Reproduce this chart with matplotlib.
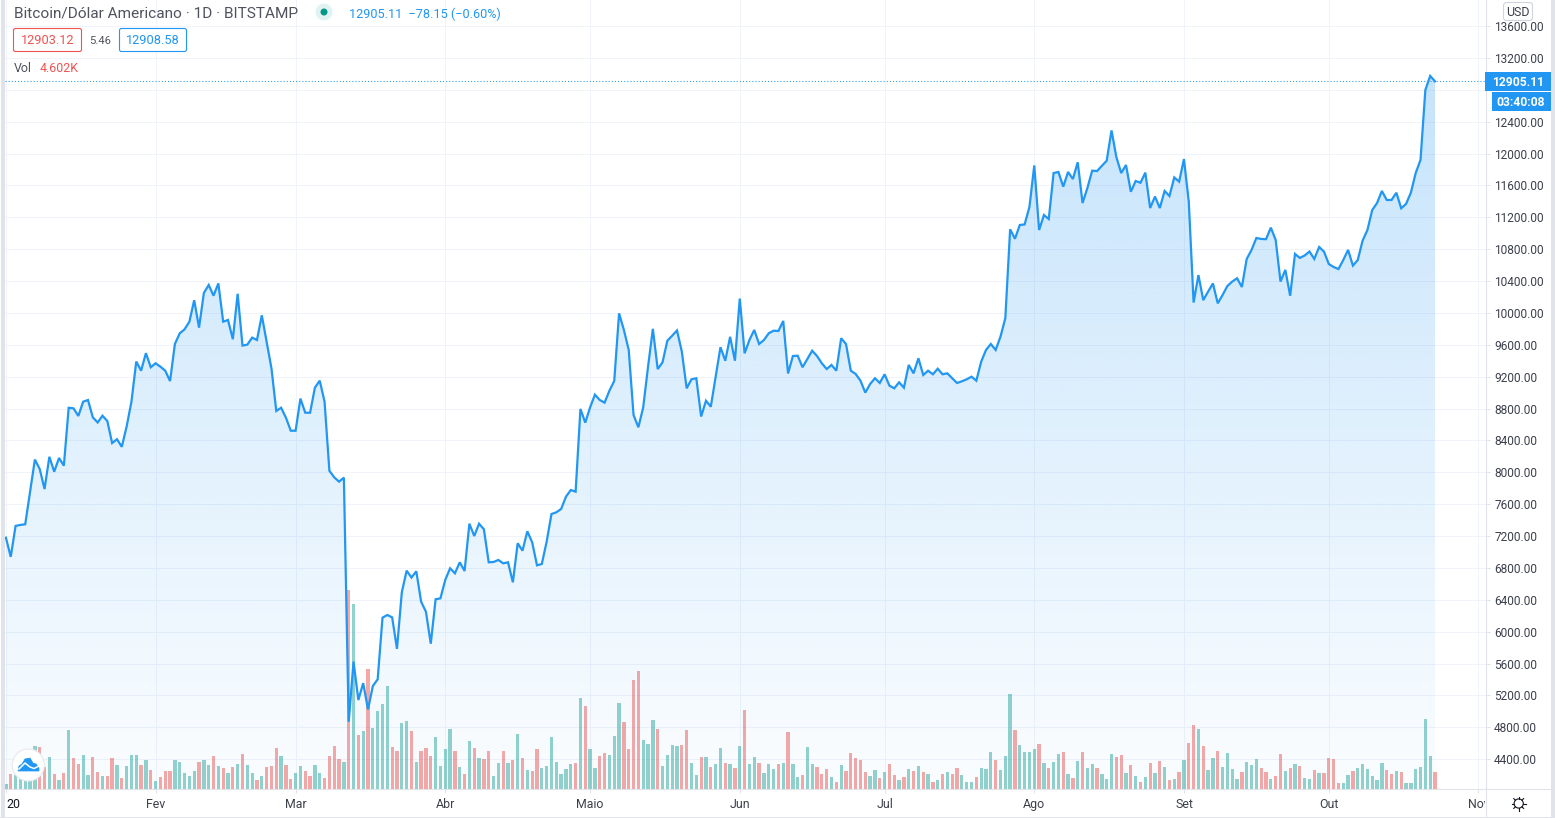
import numpy as np
import matplotlib
matplotlib.use('Agg')
import matplotlib.pyplot as plt
from matplotlib.patches import Circle, FancyBboxPatch, PathPatch, Polygon, Rectangle
from matplotlib.path import Path
from matplotlib.transforms import Bbox

# daily close per month
close_jan = [7180, 6940, 7327, 7340, 7348, 7757, 8160, 8041, 7790, 8195, 8008, 8180, 8083, 8810, 8803, 8707,
             8886, 8907, 8690, 8625, 8710, 8644, 8367, 8415, 8320, 8573, 8886, 9390, 9275, 9495, 9318]
close_feb = [9368, 9325, 9275, 9145, 9610, 9744, 9794, 9890, 10160, 9815, 10250, 10350, 10216, 10370, 9890,
             9911, 9670, 10240, 9590, 9602, 9690, 9660, 9970, 9640, 9305, 8770, 8810, 8685, 8522]
close_mar = [8522, 8925, 8748, 8748, 9062, 9150, 8886, 8020, 7937, 7883, 7933, 4870, 5625, 5143, 5355, 5025,
             5319, 5403, 6176, 6210, 6180, 5785, 6495, 6766, 6680, 6758, 6377, 6250, 5850, 6407, 6419]
close_abr = [6650, 6796, 6733, 6871, 6762, 7355, 7201, 7355, 7285, 6871, 6875, 6900, 6858, 6871, 6620, 7110,
             7017, 7260, 7122, 6833, 6850, 7130, 7477, 7498, 7540, 7694, 7778, 7757, 8795, 8623]
close_mai = [8815, 8974, 8907, 8874, 9024, 9146, 9995, 9786, 9535, 8719, 8565, 8815, 9325, 9800, 9295, 9380,
             9651, 9714, 9780, 9514, 9054, 9167, 9180, 8700, 8898, 8823, 9200, 9570, 9400, 9700, 9400]
close_jun = [10180, 9493, 9660, 9786, 9610, 9660, 9744, 9777, 9773, 9899, 9240, 9459, 9463, 9318, 9422, 9526,
             9459, 9368, 9296, 9347, 9275, 9682, 9610, 9275, 9234, 9150, 9000, 9108, 9180, 9121]
close_jul = [9230, 9087, 9054, 9129, 9062, 9347, 9242, 9431, 9221, 9275, 9230, 9300, 9230, 9242, 9180, 9121,
             9142, 9167, 9200, 9150, 9388, 9535, 9610, 9535, 9702, 9932, 11049, 10930, 11103, 11110, 11330]
close_ago = [11850, 11040, 11228, 11178, 11755, 11768, 11584, 11768, 11680, 11890, 11379, 11567, 11785, 11780,
             11845, 11910, 12290, 11956, 11755, 11856, 11520, 11655, 11633, 11760, 11316, 11460, 11316, 11530,
             11467, 11700, 11647]
close_set = [11930, 11396, 10130, 10475, 10160, 10267, 10370, 10120, 10225, 10338, 10393, 10435, 10325, 10677,
             10790, 10940, 10928, 10925, 11070, 10915, 10393, 10540, 10215, 10740, 10690, 10720, 10770, 10677,
             10827, 10770]
close_out = [10614, 10576, 10550, 10664, 10790, 10593, 10664, 10906, 11040, 11291, 11379, 11530, 11417, 11417,
             11508, 11313, 11367, 11508, 11755, 11919, 12797, 12973, 12905.11]

# volume in thousands
vol_jan = [1.4, 4.0, 3.8, 4.2, 3.3, 2.8, 11.9, 11.7, 6.1, 8.8, 4.0, 2.4, 4.3, 16.5, 8.6, 6.9, 9.4, 3.8, 8.8,
           4.6, 3.5, 3.5, 8.6, 6.6, 2.9, 6.3, 9.4, 9.4, 6.6, 8.0, 5.2]
vol_feb = [2.1, 3.2, 4.9, 4.9, 8.0, 7.4, 4.3, 3.5, 4.9, 7.4, 8.0, 6.6, 9.1, 6.3, 5.7, 4.3, 6.0, 6.9, 9.7, 6.6,
           4.3, 2.4, 3.5, 6.0, 6.3, 11.4, 9.1, 6.6, 2.6]
vol_mar = [4.3, 6.3, 4.9, 3.5, 6.6, 4.3, 2.9, 9.1, 11.9, 8.3, 7.4, 55.8, 52.0, 15.0, 16.2, 33.7, 17.0, 21.8,
           23.8, 28.9, 11.7, 10.5, 18.4, 19.0, 16.2, 7.4, 10.5, 11.4, 9.1, 14.5, 6.3]
vol_abr = [11.1, 16.7, 10.5, 6.0, 4.0, 13.3, 11.4, 8.6, 8.3, 10.5, 3.5, 7.1, 10.5, 7.1, 8.0, 15.3, 8.6, 5.2,
           4.9, 11.1, 5.7, 6.3, 14.5, 7.4, 4.0, 5.5, 6.9, 7.1, 25.5, 23.2]
vol_mai = [11.1, 5.7, 9.1, 10.0, 9.4, 14.8, 24.1, 18.7, 11.1, 30.6, 33.1, 13.6, 12.5, 19.3, 16.7, 6.3, 9.4,
           12.2, 11.9, 12.2, 16.5, 7.1, 3.8, 8.8, 8.8, 6.0, 6.9, 11.4, 7.1, 6.9, 5.7]
vol_jun = [11.9, 22.1, 6.9, 8.8, 7.1, 4.3, 6.9, 5.5, 6.9, 7.1, 15.9, 6.9, 3.2, 3.8, 11.7, 6.9, 6.0, 4.0, 5.5,
           3.2, 1.8, 6.6, 4.9, 10.0, 8.6, 8.0, 4.6, 3.5, 5.2, 2.9]
vol_jul = [4.6, 6.9, 3.8, 2.4, 3.2, 5.5, 4.9, 6.3, 4.6, 4.0, 1.8, 2.4, 4.0, 4.6, 4.0, 5.7, 3.8, 1.8, 1.8, 3.2,
           5.7, 5.5, 10.2, 8.0, 5.2, 9.1, 26.6, 16.5, 12.2, 10.2, 10.2]
vol_ago = [11.1, 12.5, 7.1, 5.7, 7.4, 9.7, 10.2, 4.0, 2.9, 7.7, 10.2, 5.7, 6.9, 5.7, 4.0, 2.6, 9.7, 8.8, 9.4,
           4.3, 6.6, 3.5, 1.8, 3.2, 7.1, 4.3, 7.7, 6.0, 2.4, 2.6, 4.6]
vol_set = [8.0, 12.8, 17.9, 16.7, 11.9, 5.2, 8.6, 10.5, 6.0, 10.0, 5.5, 2.6, 4.6, 7.4, 6.6, 8.3, 5.7, 4.6, 2.6,
           3.5, 9.7, 4.9, 5.7, 6.9, 6.3, 2.9, 2.6, 5.2, 4.3, 4.3]
vol_out = [8.6, 8.3, 1.5, 1.5, 3.8, 4.9, 5.7, 6.9, 5.5, 3.5, 2.4, 7.1, 5.2, 4.0, 4.9, 4.6, 1.5, 1.5, 5.5, 6.0,
           19.6, 9.1, 4.602]

# u = up day (green bar), d = down day (red bar), one row per month
dirs = [
    "u d u u u u u d d u d u d u d d u u d d u d d u d u u u d u d",
    "u d d d u u u u u d u u d u d u d u d u u d u d d d u d d",
    "u u d d u u d d d d u d u d u d u u u u d d u u d u d d d u u",
    "u u d u d u d u d d u u d u d u d u d d u u u u u u u d u d",
    "u u d d u u u d d d d u u u d u u u u d d u u d u d u u d u d",
    "u d u u d u u u d u d u u d u u d d d u d u d d d d d u u d",
    "u d d u d u d u d u d u d u d d u u u d u u u d u u u d u u u",
    "u d u d u u d u d u d u u d u u u d d u d u d u d u d u d u d",
    "u d d u d u u d u u u u d u u u d d u d d u d u d u u d u d",
    "d d d u u d u u u u u u d d u d u u u u u u d",
]

month_ticks = [0, 31, 60, 91, 121, 152, 182, 213, 244, 274, 305]
month_labels = ['20', 'Fev', 'Mar', 'Abr', 'Maio', 'Jun', 'Jul', 'Ago', 'Set', 'Out', 'Nov']
price_ticks = list(range(4400, 13601, 400))

close = np.array(close_jan + close_feb + close_mar + close_abr + close_mai + close_jun + close_jul
                 + close_ago + close_set + close_out, dtype=float)
volume = np.array(vol_jan + vol_feb + vol_mar + vol_abr + vol_mai + vol_jun + vol_jul + vol_ago + vol_set + vol_out)
updown = ' '.join(dirs).split()
days = np.arange(len(close))

BLUE = '#2196f3'
RED = '#ef5350'
GREEN = '#26a69a'
GRID = '#f0f3fa'
BORDER = '#e0e3eb'
TEXT = '#50535e'
AXIS_TEXT = '#3c404b'

plt.rcParams['font.family'] = ['Roboto', 'DejaVu Sans']

W, H = 1555, 818
fig = plt.figure(figsize=(W / 100, H / 100), dpi=100)

# pane runs from x=5 to x=1485.5 and from the top of the picture down to y=788.5
pane = [5 / W, 1 - 788.5 / H, 1480.5 / W, 788.5 / H]
xlim = (-0.19, 306.46)
ylim = (4033, 13926)

ax = fig.add_axes(pane)
ax.set_xlim(xlim)
ax.set_ylim(ylim)
ax.set_yticks(price_ticks)
ax.set_yticklabels(['' if p == 12800 else f'{p:.2f}' for p in price_ticks], fontsize=8.6, color=AXIS_TEXT)
ax.set_xticks(month_ticks)
ax.set_xticklabels(month_labels, fontsize=8.9, color=AXIS_TEXT)
ax.yaxis.tick_right()
ax.tick_params(axis='y', length=2.9, width=0.72, color=BORDER, pad=3.4)
ax.tick_params(axis='x', length=2.9, width=0.72, color=BORDER, pad=4)
ax.grid(True, color=GRID, lw=0.72)
ax.set_axisbelow(True)
for side in ['top', 'left']:
    ax.spines[side].set_visible(False)
for side in ['right', 'bottom']:
    ax.spines[side].set_color(BORDER)
    ax.spines[side].set_linewidth(0.8)

tick_labels = ax.get_xticklabels()
tick_labels[0].set_ha('left')
tick_labels[0].set_color('#131722')
tick_labels[-1].set_clip_on(True)
tick_labels[-1].set_clip_box(Bbox([[0, 0], [1485, H]]))

# volume sits in its own layer, between the grid and the price line
ax_vol = fig.add_axes(pane, sharex=ax)
ax_vol.set_ylim(0, 222)
ax_vol.set_axis_off()
bar_colors = [GREEN if d == 'u' else RED for d in updown]
ax_vol.bar(days, volume, width=0.68, color=bar_colors, alpha=0.5, linewidth=0)

ax_price = fig.add_axes(pane, sharex=ax)
ax_price.set_ylim(ylim)
ax_price.set_axis_off()

# area under the line, fading towards the bottom of the pane
rows = 256
grad = np.zeros((rows, 1, 4))
grad[..., 0] = 33 / 255
grad[..., 1] = 150 / 255
grad[..., 2] = 243 / 255
grad[:, 0, 3] = np.linspace(0.26, 0.02, rows)
img = ax_price.imshow(grad, aspect='auto', extent=(days[0], days[-1], ylim[0], close.max()), zorder=1,
                      interpolation='bilinear')
verts = list(zip(days, close)) + [(days[-1], ylim[0]), (days[0], ylim[0])]
clip = PathPatch(Path(verts), transform=ax_price.transData, facecolor='none', edgecolor='none')
ax_price.add_patch(clip)
img.set_clip_path(clip)
ax_price.set_xlim(xlim)
ax_price.set_ylim(ylim)

ax_price.plot(days, close, color=BLUE, lw=1.6, solid_joinstyle='miter', zorder=3)
ax_price.axhline(close[-1], color=BLUE, lw=0.75, ls=(0, (1, 2)), zorder=2)

# everything around the chart is placed in picture pixels
ui = fig.add_axes([0, 0, 1, 1], facecolor='none')
ui.set_xlim(0, W)
ui.set_ylim(H, 0)
ui.set_axis_off()


def label(x, y, s, color=TEXT, size=8.9, **kw):
    ui.text(x, y, s, color=color, fontsize=size, va='center', **kw)


def rounded(x0, y0, x1, y1, edge, face='white', r=2):
    ui.add_patch(FancyBboxPatch((x0, y0), x1 - x0, y1 - y0, boxstyle=f'round,pad=0,rounding_size={r}',
                                edgecolor=edge, facecolor=face, lw=0.8))


ui.add_patch(Rectangle((1, 0), 4, H, color=BORDER, lw=0))
ui.add_patch(Rectangle((1551, 0), 4, H, color=BORDER, lw=0))
ui.add_patch(Rectangle((0, 816.5), W, 1.5, color=BORDER, lw=0))
ui.add_line(plt.Line2D([1485.5, 1485.5], [788, 816.5], color=BORDER, lw=0.8))
ui.add_line(plt.Line2D([1485.5, 1551], [788.5, 788.5], color=BORDER, lw=0.8))

label(14, 13, 'Bitcoin/Dólar Americano · 1D · BITSTAMP', size=11.1)
ui.add_patch(Circle((324, 12), 8.5, color='#e0f2f1', lw=0))
ui.add_patch(Circle((324, 12), 3.5, color='#009688', lw=0))
label(349, 14, '12905.11  −78.15 (−0.60%)', color=BLUE, size=9.05)

rounded(13.5, 28.5, 81.5, 51.5, RED)
label(47.5, 41, '12903.12', color=RED, ha='center', size=9.2)
label(89, 41, '5.46', size=8.1)
rounded(119.5, 28.5, 186.5, 51.5, BLUE)
label(153, 41, '12908.58', color=BLUE, ha='center', size=9.2)
label(14, 69, 'Vol')
label(40, 69, '4.602K', color=RED)

rounded(1503.5, 2.5, 1532.5, 20.5, '#d1d4dc', r=3)
label(1518, 12, 'USD', color=AXIS_TEXT, ha='center')

ui.add_patch(Rectangle((1485, 72), 66, 19, color=BLUE, lw=0))
label(1518, 82, '12905.11', color='white', ha='center', fontweight='bold', size=8.7)
ui.add_patch(Rectangle((1492, 92), 59, 19, color=BLUE, lw=0))
label(1521, 102, '03:40:08', color='white', ha='center', fontweight='bold', size=8.7)

# logo badge
ui.add_patch(Circle((28.3, 765), 16, facecolor='white', edgecolor='#e9ebf0', lw=0.9, zorder=5))
ui.add_patch(Polygon([(18, 771), (19, 766), (22, 764), (25, 759), (30, 758), (33, 763), (36, 764), (39, 768), (39, 771)],
                     closed=True, facecolor=BLUE, edgecolor=BLUE, lw=0.5, zorder=6))
ui.add_line(plt.Line2D([19, 25, 30, 34, 39], [769, 763, 767, 768.5, 766], color='white', lw=1.1, zorder=7))

# settings gear
ui.add_patch(Circle((1518.7, 803.5), 4.6, facecolor='none', edgecolor='#131722', lw=0.8))
for a in np.deg2rad(np.arange(0, 360, 45)):
    ui.add_line(plt.Line2D([1518.7 + 4.6 * np.cos(a), 1518.7 + 7 * np.cos(a)],
                           [803.5 + 4.6 * np.sin(a), 803.5 + 7 * np.sin(a)], color='#131722', lw=0.8))

fig.savefig('out.png', dpi=100)
